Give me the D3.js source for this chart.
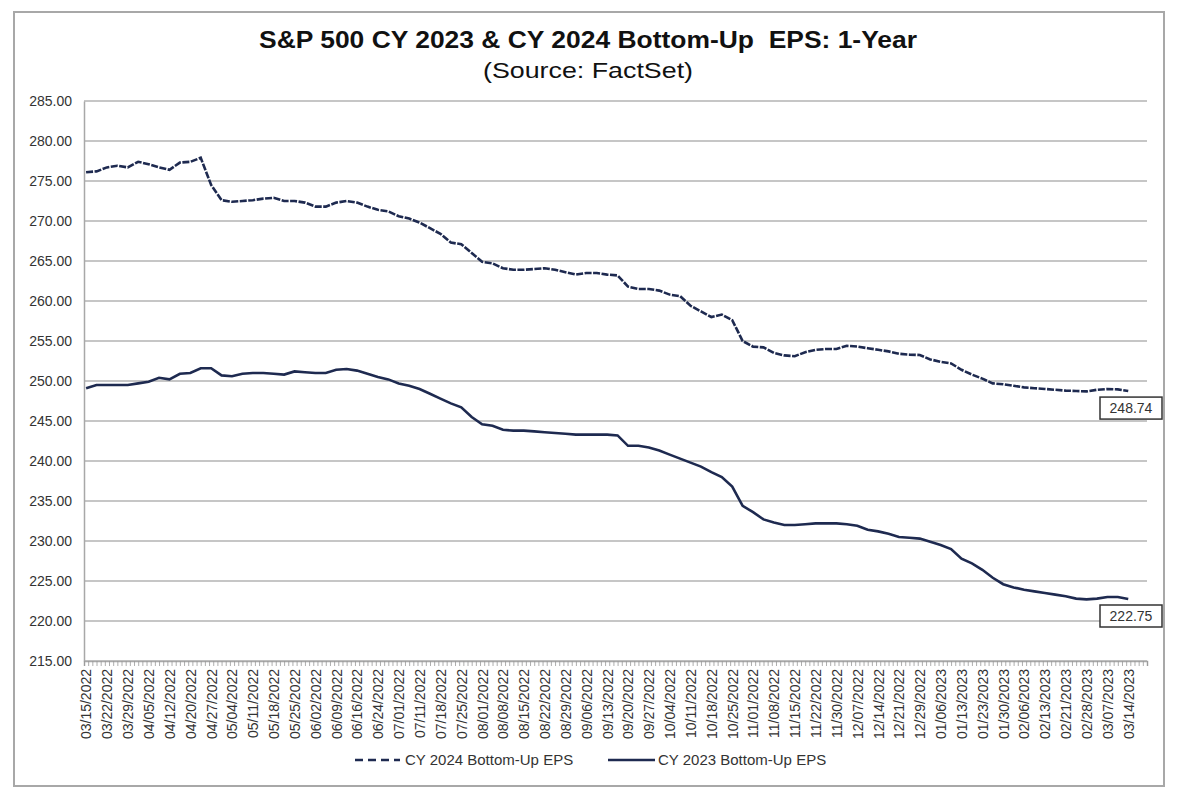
<!DOCTYPE html>
<html>
<head>
  <meta charset="utf-8">
  <title>S&amp;P 500 CY 2023 &amp; CY 2024 Bottom-Up EPS</title>
  <script src="https://d3js.org/d3.v7.min.js"></script>
  <style>
    body { margin: 0; background: #fff; }
    svg { font-family: Arial, "Liberation Sans", sans-serif; }
    .title { white-space: pre; }
  </style>
</head>
<body>
  <script>
    // one label every 5 trading days
    var weekLabels = [
      "03/15/2022", "03/22/2022", "03/29/2022", "04/05/2022", "04/12/2022", "04/20/2022", "04/27/2022",
      "05/04/2022", "05/11/2022", "05/18/2022", "05/25/2022", "06/02/2022", "06/09/2022", "06/16/2022",
      "06/24/2022", "07/01/2022", "07/11/2022", "07/18/2022", "07/25/2022", "08/01/2022", "08/08/2022",
      "08/15/2022", "08/22/2022", "08/29/2022", "09/06/2022", "09/13/2022", "09/20/2022", "09/27/2022",
      "10/04/2022", "10/11/2022", "10/18/2022", "10/25/2022", "11/01/2022", "11/08/2022", "11/15/2022",
      "11/22/2022", "11/30/2022", "12/07/2022", "12/14/2022", "12/21/2022", "12/29/2022", "01/06/2023",
      "01/13/2023", "01/23/2023", "01/30/2023", "02/06/2023", "02/13/2023", "02/21/2023", "02/28/2023",
      "03/07/2023", "03/14/2023"
    ];

    // values read every half label (2.5 trading days)
    var cy2024 = [
      276.1, 276.2, 276.7, 276.9, 276.7, 277.4, 277.1, 276.7, 276.4, 277.3,
      277.4, 277.9, 274.5, 272.6, 272.4, 272.5, 272.6, 272.8, 272.9, 272.5,
      272.5, 272.3, 271.8, 271.8, 272.3, 272.5, 272.3, 271.8, 271.4, 271.2,
      270.6, 270.3, 269.8, 269.1, 268.4, 267.3, 267.1, 266.0, 264.9, 264.7,
      264.1, 263.9, 263.9, 264.0, 264.1, 263.9, 263.6, 263.3, 263.5, 263.5,
      263.3, 263.2, 261.8, 261.5, 261.5, 261.3, 260.8, 260.6, 259.4, 258.7,
      258.0, 258.3, 257.6, 255.0, 254.3, 254.2, 253.5, 253.2, 253.1, 253.6,
      253.9, 254.0, 254.0, 254.4, 254.3, 254.1, 253.9, 253.7, 253.4, 253.3,
      253.25, 252.7, 252.4, 252.2, 251.4, 250.8, 250.3, 249.7, 249.6, 249.4,
      249.2, 249.1, 249.0, 248.9, 248.8, 248.75, 248.7, 248.9, 249.0, 248.95,
      248.74
    ];

    var cy2023 = [
      249.1, 249.5, 249.5, 249.5, 249.5, 249.7, 249.9, 250.4, 250.2, 250.9,
      251.0, 251.6, 251.6, 250.7, 250.6, 250.9, 251.0, 251.0, 250.9, 250.8,
      251.2, 251.1, 251.0, 251.0, 251.4, 251.5, 251.3, 250.9, 250.5, 250.2,
      249.7, 249.4, 249.0, 248.4, 247.8, 247.2, 246.7, 245.5, 244.6, 244.4,
      243.9, 243.8, 243.8, 243.7, 243.6, 243.5, 243.4, 243.3, 243.3, 243.3,
      243.3, 243.2, 241.9, 241.9, 241.7, 241.3, 240.8, 240.3, 239.8, 239.3,
      238.6, 238.0, 236.8, 234.4, 233.6, 232.7, 232.3, 232.0, 232.0, 232.1,
      232.2, 232.2, 232.2, 232.1, 231.9, 231.4, 231.2, 230.9, 230.5, 230.4,
      230.3, 229.9, 229.5, 229.0, 227.8, 227.2, 226.4, 225.4, 224.6, 224.2,
      223.9, 223.7, 223.5, 223.3, 223.1, 222.8, 222.7, 222.8, 223.0, 223.0,
      222.75
    ];

    var yTicks = [215, 220, 225, 230, 235, 240, 245, 250, 255, 260, 265, 270, 275, 280, 285];

    var daysPerSample = 2.5;
    var daysPerLabel = 5;
    var tradingDays = 255;
    var lineColor = "#1e2a50";

    var svg = d3.select("body")
      .append("svg")
      .attr("width", 1200)
      .attr("height", 800);

    // chart frame
    svg.append("rect")
      .attr("x", 14).attr("y", 12)
      .attr("width", 1150).attr("height", 774)
      .attr("fill", "#fff")
      .attr("stroke", "#a8a8a8")
      .attr("stroke-width", 2);

    var x = d3.scaleLinear().domain([-0.5, tradingDays - 0.5]).range([84, 1147]);
    var y = d3.scaleLinear().domain([215, 285]).range([661, 101]);

    // title (the source picture is a little stretched sideways)
    svg.append("text")
      .attr("class", "title")
      .attr("x", 588).attr("y", 48)
      .attr("text-anchor", "middle")
      .attr("font-size", 24).attr("font-weight", "bold").attr("fill", "#111")
      .attr("textLength", 658).attr("lengthAdjust", "spacingAndGlyphs")
      .text("S&P 500 CY 2023 & CY 2024 Bottom-Up  EPS: 1-Year");
    svg.append("text")
      .attr("x", 588).attr("y", 78)
      .attr("text-anchor", "middle")
      .attr("font-size", 22).attr("fill", "#111")
      .attr("textLength", 210).attr("lengthAdjust", "spacingAndGlyphs")
      .text("(Source: FactSet)");

    // gridlines
    svg.append("g").selectAll("line")
      .data(yTicks)
      .enter()
      .append("line")
      .attr("x1", 84).attr("x2", 1147)
      .attr("y1", function(d) { return y(d); })
      .attr("y2", function(d) { return y(d); })
      .attr("stroke", "#b3b3b3")
      .attr("stroke-width", 1.5);

    // y axis
    var yAxis = svg.append("g")
      .attr("transform", "translate(84,0)")
      .call(d3.axisLeft(y).tickValues(yTicks).tickFormat(d3.format(".2f")).tickSize(0).tickPadding(12));
    yAxis.attr("font-family", null);
    yAxis.select(".domain").attr("stroke", "#a8a8a8").attr("stroke-width", 1.5);
    yAxis.selectAll("text").attr("font-size", 14).attr("fill", "#333");

    // x axis: a small tick for every trading day
    var xMinor = svg.append("g")
      .attr("transform", "translate(0,661)")
      .call(d3.axisBottom(x)
        .tickValues(d3.range(tradingDays + 1).map(function(d) { return d - 0.5; }))
        .tickFormat("")
        .tickSize(5));
    xMinor.select(".domain").attr("stroke", "#a8a8a8").attr("stroke-width", 1.5);
    xMinor.selectAll(".tick line").attr("stroke", "#999").attr("stroke-width", 0.8);

    // x axis labels, one per week
    var xAxis = svg.append("g")
      .attr("transform", "translate(0,661)")
      .call(d3.axisBottom(x)
        .tickValues(weekLabels.map(function(d, i) { return i * daysPerLabel; }))
        .tickFormat(function(d, i) { return weekLabels[i]; })
        .tickSize(0));
    xAxis.attr("font-family", null);
    xAxis.select(".domain").remove();
    xAxis.selectAll("text")
      .attr("transform", "rotate(-90)")
      .attr("x", -8).attr("y", 0)
      .attr("dy", "0.35em")
      .attr("text-anchor", "end")
      .attr("font-size", 14)
      .attr("fill", "#333");

    // lines
    var line = d3.line()
      .x(function(d, i) { return x(i * daysPerSample); })
      .y(function(d) { return y(d); });

    svg.append("path")
      .datum(cy2024)
      .attr("d", line)
      .attr("fill", "none")
      .attr("stroke", lineColor)
      .attr("stroke-width", 2.6)
      .attr("stroke-dasharray", "7,1.5");

    svg.append("path")
      .datum(cy2023)
      .attr("d", line)
      .attr("fill", "none")
      .attr("stroke", lineColor)
      .attr("stroke-width", 2.6);

    // end value labels
    var ends = [cy2024[cy2024.length - 1], cy2023[cy2023.length - 1]];
    var endG = svg.append("g").selectAll("g")
      .data(ends)
      .enter()
      .append("g")
      .attr("transform", function(d) { return "translate(1100," + (y(d) + 6) + ")"; });
    endG.append("rect")
      .attr("width", 62).attr("height", 22)
      .attr("fill", "#fff")
      .attr("stroke", "#333")
      .attr("stroke-width", 1.5);
    endG.append("text")
      .attr("x", 31).attr("y", 16)
      .attr("text-anchor", "middle")
      .attr("font-size", 14)
      .attr("fill", "#333")
      .text(function(d) { return d3.format(".2f")(d); });

    // legend
    var legend = svg.append("g").attr("font-size", 15).attr("fill", "#333");
    legend.append("line")
      .attr("x1", 355).attr("x2", 400).attr("y1", 760).attr("y2", 760)
      .attr("stroke", lineColor).attr("stroke-width", 2.6)
      .attr("stroke-dasharray", "8,5");
    legend.append("text").attr("x", 405).attr("y", 765).text("CY 2024 Bottom-Up EPS");
    legend.append("line")
      .attr("x1", 608).attr("x2", 655).attr("y1", 760).attr("y2", 760)
      .attr("stroke", lineColor).attr("stroke-width", 2.6);
    legend.append("text").attr("x", 658).attr("y", 765).text("CY 2023 Bottom-Up EPS");
  </script>
</body>
</html>
